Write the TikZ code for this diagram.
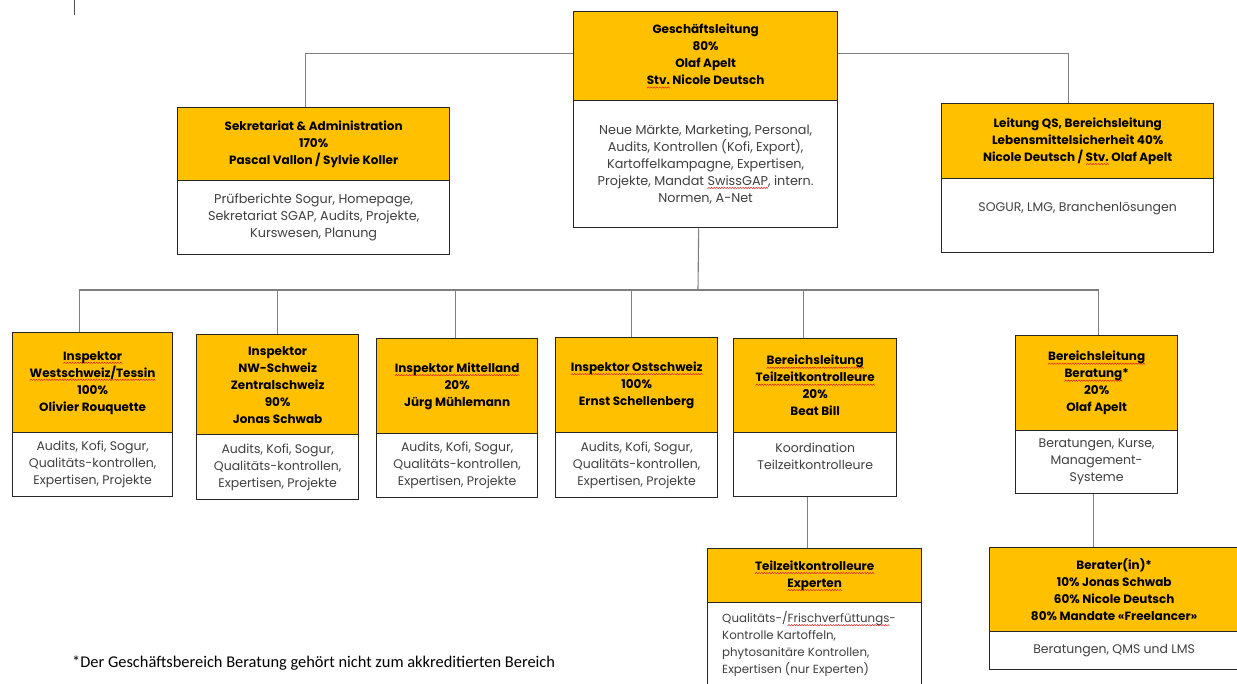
\documentclass[tikz,border=0pt]{standalone}
\usepackage{fontspec}
\setmainfont{Poppins}
\newfontfamily\notefont{Carlito}
\usetikzlibrary{backgrounds}
\definecolor{gold}{HTML}{FFC000}
\definecolor{boxline}{HTML}{262626}
\definecolor{connc}{HTML}{7F7F7F}
\definecolor{bodytext}{HTML}{404040}
\definecolor{spell}{HTML}{E02020}
\newsavebox\squigbox
\newcommand\sq[1]{\setbox0=\hbox{#1}\rlap{\raisebox{-3.5pt}{\hbox to\wd0{\xleaders\copy\squigbox\hfill}}}\box0\relax}
\tikzset{
  hd/.style={draw=boxline, line width=1.3pt, fill=gold, anchor=north west, inner sep=0pt,
    align=center, text=black, font=\fontsize{12}{17}\selectfont\bfseries},
  bd/.style={draw=boxline, line width=1.3pt, fill=white, anchor=north west, inner sep=0pt,
    align=center, text=bodytext, font=\fontsize{12.5}{17}\selectfont},
  bigbd/.style={font=\fontsize{12.8}{17}\selectfont},
  conn/.style={draw=connc, line width=1.1pt},
}
\begin{document}
\sbox\squigbox{\begin{pgfpicture}%
  \pgfpathmoveto{\pgfpoint{0pt}{0pt}}%
  \pgfpathlineto{\pgfpoint{1.3pt}{1.3pt}}%
  \pgfpathlineto{\pgfpoint{2.6pt}{0pt}}%
  \pgfsetstrokecolor{spell}\pgfsetlinewidth{0.5pt}%
  \pgfusepath{stroke}%
  \pgfresetboundingbox
  \pgfpathrectangle{\pgfpointorigin}{\pgfpoint{2.6pt}{1.3pt}}%
  \pgfusepath{use as bounding box}%
\end{pgfpicture}}%
\begin{tikzpicture}[x=1pt,y=-1pt]
\useasboundingbox (0,0) rectangle (1237,683);
% Geschaeftsleitung
\node[hd, minimum width=264pt, minimum height=89pt] (glh) at (573,11)
  {Geschäftsleitung\\80\%\\Olaf Apelt\\\sq{Stv.} Nicole Deutsch};
\node[bd, bigbd, minimum width=264pt, minimum height=127pt] (glb) at (573,100)
  {Neue Märkte, Marketing, Personal,\\Audits, Kontrollen (Kofi, Export),\\Kartoffelkampagne, Expertisen,\\Projekte, Mandat \sq{SwissGAP}, intern.\\Normen, A-Net};
% Sekretariat
\node[hd, minimum width=272pt, minimum height=73pt] (sekh) at (177,107)
  {Sekretariat \& Administration\\170\%\\Pascal Vallon / Sylvie Koller};
\node[bd, bigbd, minimum width=272pt, minimum height=74pt] (sekb) at (177,180)
  {Prüfberichte Sogur, Homepage,\\Sekretariat SGAP, Audits, Projekte,\\Kurswesen, Planung};
% QS
\node[hd, minimum width=272pt, minimum height=75pt] (qsh) at (941,103)
  {Leitung QS, Bereichsleitung\\Lebensmittelsicherheit 40\%\\Nicole Deutsch / \sq{Stv.} Olaf Apelt};
\node[bd, minimum width=272pt, minimum height=74pt] (qsb) at (941,178)
  {SOGUR, LMG, Branchenlösungen\\\mbox{}};
% Westschweiz
\node[hd, minimum width=160pt, minimum height=100pt] (westh) at (12,332)
  {\sq{Inspektor}\\\sq{Westschweiz/Tessin}\\100\%\\Olivier Rouquette};
\node[bd, minimum width=160pt, minimum height=64pt] (westb) at (12,432)
  {Audits, Kofi, Sogur,\\Qualitäts-kontrollen,\\Expertisen, Projekte};
% NW-Schweiz
\node[hd, minimum width=162pt, minimum height=100pt] (nwh) at (196,334)
  {Inspektor\\NW-Schweiz\\Zentralschweiz\\90\%\\Jonas Schwab};
\node[bd, minimum width=162pt, minimum height=65pt] (nwb) at (196,434)
  {Audits, Kofi, Sogur,\\Qualitäts-kontrollen,\\Expertisen, Projekte};
% Mittelland
\node[hd, minimum width=161pt, minimum height=95pt] (mith) at (376,338)
  {\sq{Inspektor Mittelland}\\20\%\\Jürg Mühlemann};
\node[bd, minimum width=161pt, minimum height=64pt] (mitb) at (376,433)
  {Audits, Kofi, Sogur,\\Qualitäts-kontrollen,\\Expertisen, Projekte};
% Ostschweiz
\node[hd, minimum width=162pt, minimum height=95pt] (osth) at (555,337)
  {\sq{Inspektor Ostschweiz}\\100\%\\Ernst Schellenberg};
\node[bd, minimum width=162pt, minimum height=65pt] (ostb) at (555,432)
  {Audits, Kofi, Sogur,\\Qualitäts-kontrollen,\\Expertisen, Projekte};
% Teilzeit
\node[hd, minimum width=163pt, minimum height=94pt] (tzh) at (733,338)
  {\sq{Bereichsleitung}\\\sq{Teilzeitkontrolleure}\\20\%\\Beat Bill};
\node[bd, minimum width=163pt, minimum height=64pt] (tzb) at (733,432)
  {Koordination\\Teilzeitkontrolleure\\\mbox{}};
% Beratung
\node[hd, minimum width=162pt, minimum height=95pt] (berh) at (1015,335)
  {\sq{Bereichsleitung}\\\sq{Beratung}*\\20\%\\Olaf Apelt};
\node[bd, minimum width=162pt, minimum height=63pt] (berb) at (1015,430)
  {Beratungen, Kurse,\\Management-\\Systeme};
% Teilzeitkontrolleure Experten
\node[hd, minimum width=214pt, minimum height=54pt] (tkh) at (707,548)
  {\sq{Teilzeitkontrolleure}\\\sq{Experten}};
\node[bd, minimum width=214pt, minimum height=86pt] (tkb) at (707,602) {};
\node[anchor=north west, inner sep=0pt, align=left, text=bodytext,
  font=\fontsize{11.8}{17}\selectfont] (tkt) at (722,611)
  {Qualitäts-/\sq{Frischverfüttungs}-\\Kontrolle Kartoffeln,\\phytosanitäre Kontrollen,\\Expertisen (nur Experten)};
% Berater
\node[hd, minimum width=249pt, minimum height=84pt] (berah) at (989,547)
  {Berater(in)*\\10\% Jonas Schwab\\60\% Nicole Deutsch\\80\% Mandate «Freelancer»};
\node[bd, minimum width=249pt, minimum height=38pt] (berab) at (989,631)
  {Beratungen, QMS und LMS};
% footnote
\node[anchor=west, inner sep=0pt, font=\notefont\fontsize{16.4}{18}\selectfont] (note) at (72,663)
  {*Der Geschäftsbereich Beratung gehört nicht zum akkreditierten Bereich};
% connectors
\coordinate (bus) at (698,290);
\coordinate (tick) at (74,0);
\begin{pgfonlayer}{background}
\draw[conn] ([xshift=-8pt]sekh.north) |- ([yshift=2.5pt]glh.west);
\draw[conn] ([yshift=2.5pt]glh.east) -| ([xshift=-9pt]qsh.north);
\draw[conn] ([xshift=-7pt]glb.south) -- (bus);
\draw[conn] ([xshift=-13pt]westh.north) |- (bus) -| ([xshift=2pt]berh.north);
\draw[conn] (nwh.north) -- (nwh.north |- bus);
\draw[conn] ([xshift=-1.5pt]mith.north) -- ([xshift=-1.5pt]mith.north |- bus);
\draw[conn] ([xshift=-5pt]osth.north) -- ([xshift=-5pt]osth.north |- bus);
\draw[conn] ([xshift=-11.5pt]tzh.north) -- ([xshift=-11.5pt]tzh.north |- bus);
\draw[conn] ([xshift=-7.5pt]tzb.south) -- ([xshift=-7.5pt]tzb.south |- tkh.north);
\draw[conn] ([xshift=-3pt]berb.south) -- ([xshift=-3pt]berb.south |- berah.north);
\draw[conn, draw=boxline!80, line width=0.9pt] (tick) -- ++(0,15);
\end{pgfonlayer}
\end{tikzpicture}
\end{document}
